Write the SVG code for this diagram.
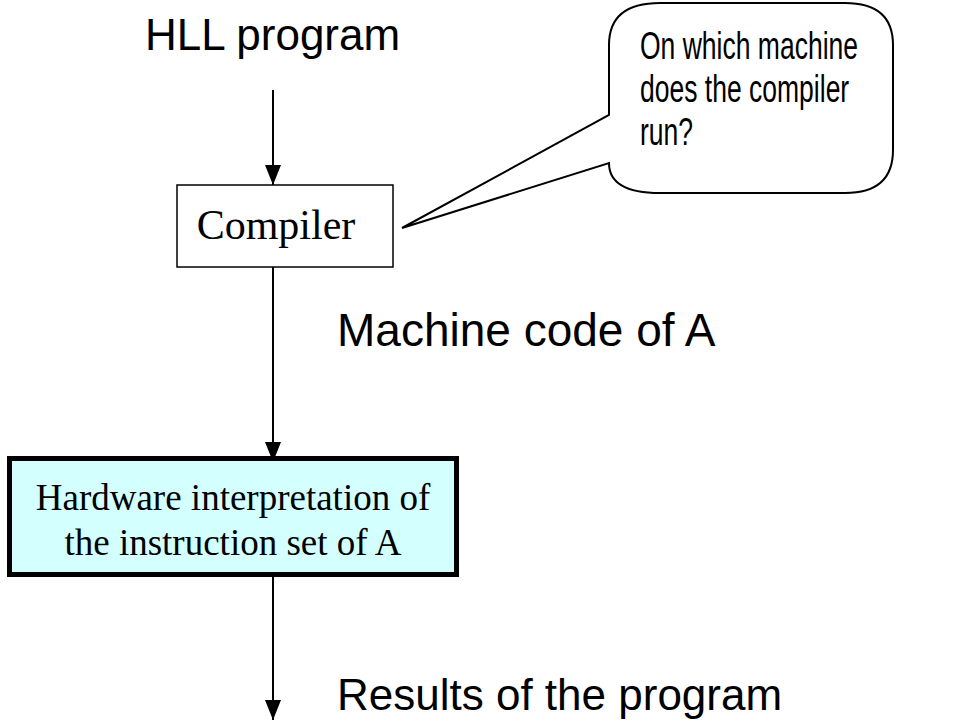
<svg xmlns="http://www.w3.org/2000/svg" width="975" height="721" viewBox="0 0 975 721">
<style>
.sans{font-family:"Liberation Sans",Arial,sans-serif;fill:#000}
.serif{font-family:"Liberation Serif","Times New Roman",serif;fill:#000}
.ln{stroke:#000;stroke-width:2;fill:none}
</style>
<defs>
<marker id="ah" markerWidth="20" markerHeight="16" refX="20" refY="8" orient="auto" markerUnits="userSpaceOnUse">
<path d="M0,0 L20,8 L0,16 Z" fill="#000"/>
</marker>
</defs>
<rect width="975" height="721" fill="#fff"/>
<g id="connectors">
<line class="ln" x1="273" y1="90" x2="273" y2="185" marker-end="url(#ah)"/>
<line class="ln" x1="273" y1="267" x2="273" y2="462" marker-end="url(#ah)"/>
<line class="ln" x1="273" y1="577" x2="273" y2="720" marker-end="url(#ah)"/>
</g>
<g id="hll">
<text class="sans" x="145" y="50" font-size="44">HLL program</text>
</g>
<g id="compiler">
<rect x="177" y="185" width="216" height="82" fill="#fff" stroke="#000" stroke-width="1.5"/>
<text class="serif" x="276" y="239" font-size="42" text-anchor="middle">Compiler</text>
</g>
<g id="callout">
<path d="M609,115 L609,45 Q609,3 660,3 L845,3 Q893,3 893,45 L893,150 Q893,193 845,193 L660,193 Q609,193 609,163 L402,228 Z" fill="#fff" stroke="#000" stroke-width="2"/>
<g transform="translate(640,0) scale(0.68,1)">
<text class="sans" font-size="39"><tspan x="0" y="59">On which machine</tspan><tspan x="0" y="102">does the compiler</tspan><tspan x="0" y="145">run?</tspan></text>
</g>
</g>
<g id="machine-code">
<text class="sans" x="337" y="346" font-size="46">Machine code of A</text>
</g>
<g id="hardware">
<rect x="9.5" y="458.5" width="447" height="116" fill="#d4ffff" stroke="#000" stroke-width="5"/>
<text class="serif" font-size="37" text-anchor="middle"><tspan x="233" y="510">Hardware interpretation of</tspan><tspan x="233" y="555">the instruction set of A</tspan></text>
</g>
<g id="results">
<text class="sans" x="337" y="710" font-size="44">Results of the program</text>
</g>
</svg>
